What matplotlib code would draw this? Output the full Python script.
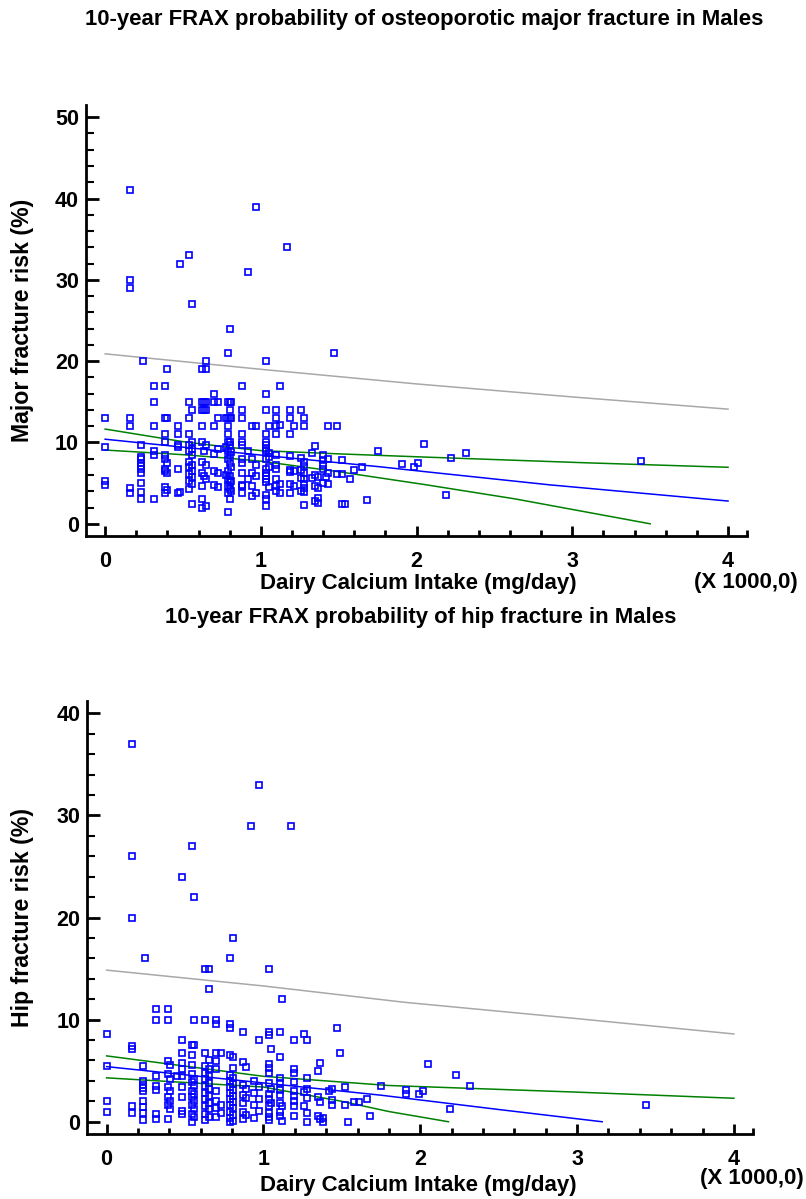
import matplotlib
matplotlib.use("Agg")
import matplotlib.pyplot as plt
from matplotlib.ticker import MultipleLocator, FixedLocator

plt.rcParams['font.family'] = ['Liberation Sans', 'DejaVu Sans']
plt.rcParams['font.weight'] = 'bold'

# ---- data (calcium in thousands of mg/day, risk in %) ----
major_points = [
    (0.0, 13), (0.0, 9.5), (0.0, 5.3), (0.0, 4.8),
    (0.157, 41), (0.157, 30), (0.157, 29), (0.157, 13), (0.157, 12), (0.157, 4.4), (0.157, 3.8),
    (0.23, 9.7), (0.23, 8.2), (0.23, 8.0), (0.23, 7.5), (0.23, 7.1), (0.23, 6.8), (0.23, 6.3),
    (0.23, 5.0), (0.23, 3.9), (0.23, 3.1), (0.245, 20),
    (0.313, 17), (0.313, 15), (0.313, 12), (0.313, 8.9), (0.313, 8.4), (0.313, 3.1),
    (0.382, 17), (0.382, 13), (0.382, 11), (0.382, 10), (0.382, 8.5), (0.382, 8.0), (0.382, 6.8),
    (0.382, 6.5), (0.382, 4.5), (0.382, 3.75),
    (0.40, 19), (0.40, 13), (0.40, 7.5), (0.40, 6.3), (0.40, 4.2),
    (0.47, 12), (0.47, 11), (0.47, 9.7), (0.47, 9.5), (0.47, 6.75), (0.47, 3.75), (0.48, 32), (0.48, 3.9),
    (0.54, 33), (0.54, 15), (0.54, 13), (0.54, 11), (0.54, 9.7), (0.54, 8.9), (0.54, 7.6), (0.54, 7.0),
    (0.54, 6.1), (0.54, 5.3), (0.54, 4.25),
    (0.557, 27), (0.557, 14), (0.557, 10), (0.557, 9.25), (0.557, 8.4), (0.557, 7.25), (0.557, 6.5),
    (0.557, 5.7), (0.557, 4.9), (0.557, 2.4),
    (0.62, 19), (0.62, 15), (0.62, 14), (0.62, 12), (0.62, 10), (0.62, 7.6), (0.62, 6.3), (0.62, 4.7),
    (0.62, 3.0), (0.62, 2.0),
    (0.635, 15), (0.635, 14), (0.635, 9.0), (0.635, 5.9),
    (0.648, 20), (0.648, 19), (0.648, 15), (0.648, 14), (0.648, 9.7), (0.648, 7.2), (0.648, 5.5), (0.648, 2.2),
    (0.70, 16), (0.70, 15), (0.70, 12), (0.70, 8.6), (0.70, 6.5), (0.70, 4.8),
    (0.725, 15), (0.725, 13), (0.725, 9.2), (0.725, 6.2), (0.725, 4.5),
    (0.775, 13), (0.775, 9.5), (0.775, 6.0),
    (0.787, 21), (0.787, 15), (0.787, 13), (0.787, 12), (0.787, 11), (0.787, 10), (0.787, 9.0),
    (0.787, 8.0), (0.787, 6.5), (0.787, 5.5), (0.787, 4.7), (0.787, 3.75), (0.787, 1.5),
    (0.80, 24), (0.80, 15), (0.80, 14), (0.80, 13), (0.80, 10), (0.80, 9.7), (0.80, 8.5), (0.80, 7.5),
    (0.80, 5.9), (0.80, 5.1), (0.80, 4.25), (0.80, 3.1),
    (0.81, 15), (0.81, 13), (0.81, 8.8), (0.81, 7.0), (0.81, 5.3), (0.81, 4.0),
    (0.877, 17), (0.877, 14), (0.877, 13), (0.877, 11), (0.877, 10), (0.877, 9.7), (0.877, 8.0),
    (0.877, 7.5), (0.877, 6.3), (0.877, 4.8), (0.877, 4.7), (0.877, 3.75),
    (0.916, 31), (0.916, 9.0), (0.916, 5.5),
    (0.945, 12), (0.945, 8.0), (0.945, 6.3), (0.945, 4.7), (0.945, 3.4),
    (0.969, 39), (0.969, 12), (0.969, 7.25), (0.969, 5.9), (0.969, 3.8),
    (1.03, 20), (1.03, 16), (1.03, 14), (1.03, 11), (1.03, 10), (1.03, 9.7), (1.03, 9.25), (1.03, 9.0),
    (1.03, 8.0), (1.03, 6.75), (1.03, 6.3), (1.03, 5.9), (1.03, 5.5), (1.03, 5.1), (1.03, 3.6),
    (1.03, 3.0), (1.03, 2.2),
    (1.05, 12), (1.05, 8.7), (1.05, 8.2), (1.05, 7.0), (1.05, 4.5),
    (1.10, 14), (1.10, 13), (1.10, 12), (1.10, 11), (1.10, 8.5), (1.10, 7.2), (1.10, 6.75), (1.10, 5.5),
    (1.10, 4.7), (1.10, 4.0),
    (1.12, 17), (1.12, 12.1), (1.12, 4.9), (1.12, 3.8), (1.17, 34),
    (1.19, 14), (1.19, 13), (1.19, 11), (1.19, 8.3), (1.19, 6.6), (1.19, 6.4), (1.19, 4.9), (1.19, 3.75),
    (1.21, 12), (1.21, 6.5), (1.21, 4.7),
    (1.26, 14), (1.26, 8.1), (1.26, 6.6), (1.26, 5.65), (1.26, 4.0),
    (1.28, 13), (1.28, 12), (1.28, 7.6), (1.28, 7.1), (1.28, 6.3), (1.28, 5.5), (1.28, 4.9), (1.28, 4.4),
    (1.28, 3.9), (1.28, 2.3),
    (1.33, 8.7), (1.33, 5.6), (1.35, 9.6), (1.35, 5.98), (1.35, 4.6), (1.35, 2.8),
    (1.37, 5.7), (1.37, 4.45), (1.37, 3.2), (1.37, 2.5),
    (1.40, 8.4), (1.40, 7.9), (1.40, 7.2), (1.40, 6.8), (1.40, 5.0), (1.42, 5.8),
    (1.43, 12), (1.43, 8.0), (1.43, 6.3), (1.43, 4.9), (1.47, 21), (1.49, 12), (1.49, 6.1),
    (1.52, 7.9), (1.52, 6.1), (1.52, 2.4), (1.54, 2.45), (1.575, 5.5), (1.60, 6.65), (1.65, 7.0),
    (1.68, 2.9), (1.75, 9.0), (1.905, 7.3), (1.985, 7.0), (2.01, 7.44), (2.05, 9.77), (2.19, 3.6),
    (2.22, 8.1), (2.32, 8.66), (3.44, 7.76),
]

hip_points = [
    (0.0, 8.6), (0.0, 5.5), (0.0, 2.0), (0.0, 1.0),
    (0.16, 37), (0.16, 26), (0.16, 20), (0.16, 7.4), (0.16, 7.1), (0.16, 1.5), (0.16, 0.85),
    (0.23, 5.5), (0.23, 4.0), (0.23, 3.6), (0.23, 3.3), (0.23, 3.0), (0.23, 2.0), (0.23, 1.4),
    (0.23, 0.85), (0.23, 0.2), (0.245, 16),
    (0.315, 11), (0.315, 10), (0.315, 4.5), (0.315, 3.55), (0.315, 3.1), (0.315, 0.8), (0.315, 0.3),
    (0.39, 11), (0.39, 10), (0.39, 5.95), (0.39, 4.7), (0.39, 3.4), (0.39, 2.45), (0.39, 1.6), (0.39, 0.3),
    (0.405, 5.6), (0.405, 4.2), (0.405, 3.0), (0.405, 2.0), (0.405, 1.2), (0.45, 4.5),
    (0.48, 24), (0.48, 8.0), (0.48, 6.75), (0.48, 5.8), (0.48, 5.15), (0.48, 4.5), (0.48, 3.4),
    (0.48, 2.45), (0.48, 1.1), (0.48, 0.8),
    (0.545, 27), (0.545, 7.5), (0.545, 6.5), (0.545, 5.6), (0.545, 4.7), (0.545, 3.9), (0.545, 3.0),
    (0.545, 2.4), (0.545, 1.6), (0.545, 0.8), (0.545, 0.0),
    (0.56, 22), (0.56, 10), (0.56, 7.5), (0.56, 4.2), (0.56, 3.5), (0.56, 2.7), (0.56, 2.0), (0.56, 1.2),
    (0.56, 0.5),
    (0.63, 15), (0.63, 10), (0.63, 6.75), (0.63, 5.5), (0.63, 4.8), (0.63, 4.2), (0.63, 3.5), (0.63, 2.8),
    (0.63, 2.2), (0.63, 1.5), (0.63, 0.8), (0.63, 0.2),
    (0.65, 15), (0.65, 13), (0.65, 6.0), (0.65, 5.2), (0.65, 4.5), (0.65, 3.8), (0.65, 3.2), (0.65, 2.5),
    (0.65, 1.8), (0.65, 1.2), (0.65, 0.5),
    (0.70, 10), (0.70, 9.6), (0.70, 6.75), (0.70, 5.95), (0.70, 5.15), (0.70, 3.0), (0.70, 2.0),
    (0.70, 1.3), (0.70, 0.5), (0.728, 6.75), (0.728, 1.6), (0.728, 0.9),
    (0.79, 16), (0.79, 9.6), (0.79, 9.2), (0.79, 6.5), (0.79, 4.6), (0.79, 4.0), (0.79, 3.4), (0.79, 2.8),
    (0.79, 2.2), (0.79, 1.6), (0.79, 1.0), (0.79, 0.4), (0.79, 0.0),
    (0.806, 18), (0.806, 6.3), (0.806, 5.3), (0.806, 4.3), (0.806, 3.7), (0.806, 3.1), (0.806, 2.5),
    (0.806, 1.9), (0.806, 1.3), (0.806, 0.7), (0.806, 0.1),
    (0.87, 8.8), (0.87, 5.85), (0.87, 3.6), (0.87, 2.6), (0.87, 1.8), (0.87, 1.0), (0.87, 0.3),
    (0.89, 5.35), (0.89, 3.2), (0.89, 2.3), (0.89, 0.7), (0.92, 29),
    (0.94, 4.0), (0.94, 2.8), (0.94, 1.6), (0.94, 0.4),
    (0.97, 33), (0.97, 8.0), (0.97, 3.4), (0.97, 2.2), (0.97, 1.1),
    (1.035, 15), (1.035, 8.75), (1.035, 8.46), (1.035, 5.7), (1.035, 5.25), (1.035, 4.8), (1.035, 3.8),
    (1.035, 2.7), (1.035, 2.2), (1.035, 1.5), (1.035, 0.9), (1.035, 0.5), (1.035, 0.2),
    (1.05, 7.15), (1.05, 3.2), (1.05, 1.8),
    (1.105, 8.75), (1.105, 6.35), (1.105, 4.3), (1.105, 3.8), (1.105, 3.1), (1.105, 2.6), (1.105, 1.8),
    (1.105, 1.0), (1.105, 0.6), (1.12, 12), (1.12, 1.5), (1.12, 0.1), (1.177, 29),
    (1.195, 7.97), (1.195, 5.2), (1.195, 4.8), (1.195, 3.9), (1.195, 3.0), (1.195, 2.5), (1.195, 2.0),
    (1.195, 1.5), (1.195, 0.6),
    (1.26, 8.6), (1.26, 2.9), (1.26, 1.5),
    (1.28, 7.97), (1.28, 4.3), (1.28, 3.2), (1.28, 2.3), (1.28, 0.9), (1.28, 0.0),
    (1.35, 5.0), (1.35, 2.4), (1.35, 0.6), (1.36, 5.8), (1.36, 1.9), (1.36, 0.3), (1.38, 0.4), (1.38, 0.0),
    (1.42, 3.0), (1.44, 3.2), (1.44, 2.1), (1.44, 1.6), (1.47, 9.18), (1.49, 6.75), (1.52, 3.4),
    (1.52, 1.6), (1.54, 0.0), (1.58, 1.9), (1.61, 1.9), (1.66, 2.2), (1.68, 0.56), (1.75, 3.5),
    (1.91, 3.1), (1.91, 2.7), (1.99, 2.7), (2.015, 3.0), (2.05, 5.67), (2.19, 1.22), (2.226, 4.6),
    (2.32, 3.54), (3.44, 1.64),
]

# fitted line, confidence band and prediction limit
major_fit_x = [0, 1, 1.77, 2.06, 2.85, 4]
major_fit_y = [10.4, 8.45, 7.0, 6.4, 4.8, 2.8]
major_ci_up_x = [0, 0.5, 0.8, 1, 1.5, 2.06, 3.09, 4]
major_ci_up_y = [11.65, 10.1, 9.4, 9.0, 8.6, 8.2, 7.5, 6.95]
major_ci_lo_x = [0, 0.5, 0.8, 1, 1.5, 2.06, 2.63, 3.5]
major_ci_lo_y = [9.07, 8.5, 8.05, 7.7, 6.4, 4.8, 3.07, 0.0]
major_pred_x = [0, 1, 2, 3, 4]
major_pred_y = [20.9, 19.0, 17.2, 15.6, 14.1]

hip_fit_x = [0, 1, 1.75, 2.5, 3.16]
hip_fit_y = [5.4, 3.8, 2.6, 1.2, 0.0]
hip_ci_up_x = [0, 1, 1.8, 3, 4]
hip_ci_up_y = [6.45, 4.45, 3.55, 2.9, 2.3]
hip_ci_lo_x = [0, 1, 1.5, 1.8, 2.18]
hip_ci_lo_y = [4.3, 3.4, 2.0, 1.0, 0.0]
hip_pred_x = [0, 1, 1.9, 3, 4]
hip_pred_y = [14.85, 13.3, 11.7, 10.1, 8.6]

x_ticks = [0, 1, 2, 3, 4]
x_ticklabels = ['0', '1', '2', '3', '4']

W, H = 806, 1199
fig = plt.figure(figsize=(W / 100, H / 100), dpi=100)


def make_panel(rect, points, fit, ci_up, ci_lo, pred, ylim, ylabel, xlab_y, unit_pos, title, title_pos):
    l, t, r, b = rect
    ax = fig.add_axes([l / W, 1 - b / H, (r - l) / W, (b - t) / H])
    xs = [p[0] for p in points]
    ys = [p[1] for p in points]

    ax.plot(pred[0], pred[1], color='#a8a8a8', lw=1.1)
    ax.plot(ci_up[0], ci_up[1], color='#008000', lw=1.1)
    ax.plot(ci_lo[0], ci_lo[1], color='#008000', lw=1.1)
    ax.plot(fit[0], fit[1], color='#0000ff', lw=1.1)
    ax.plot(xs, ys, ls='none', marker='s', ms=5, mfc='none', mec='#0000ff', mew=1.2)

    ax.set_xlim(-0.123, 4.12)
    ax.set_ylim(*ylim)
    for s in ['top', 'right']:
        ax.spines[s].set_visible(False)
    for s in ['left', 'bottom']:
        ax.spines[s].set_linewidth(2)

    ax.xaxis.set_major_locator(FixedLocator(x_ticks))
    ax.set_xticklabels(x_ticklabels)
    ax.xaxis.set_minor_locator(FixedLocator([v / 5 for v in range(1, 20) if v % 5] + [4.12]))
    ax.yaxis.set_major_locator(MultipleLocator(10))
    ax.yaxis.set_minor_locator(MultipleLocator(2))
    ax.tick_params(axis='x', which='major', direction='in', length=7, width=2, pad=11, labelsize=15.5)
    ax.tick_params(axis='x', which='minor', direction='in', length=4, width=2)
    ax.tick_params(axis='y', which='major', direction='in', length=9.5, width=2, pad=5, labelsize=15.5)
    ax.tick_params(axis='y', which='minor', direction='in', length=6, width=1.5)

    ax.set_ylabel(ylabel, fontsize=16.7, fontweight='bold')
    ax.yaxis.set_label_coords((22.5 - l) / (r - l), 0.5)
    ax.yaxis.label.set_va('center')
    ax.set_xlabel('Dairy Calcium Intake (mg/day)', fontsize=16, fontweight='bold')
    ax.xaxis.set_label_coords((418 - l) / (r - l), (b - xlab_y) / (b - t))
    ax.xaxis.label.set_va('center')
    # scale note sits just under the last tick label
    ax.text((unit_pos[0] - l) / (r - l), (b - unit_pos[1]) / (b - t), '(X 1000,0)', transform=ax.transAxes,
            ha='center', va='top', fontsize=16, fontweight='bold')
    fig.text(title_pos[0] / W, 1 - title_pos[1] / H, title, ha='center', va='center',
             fontsize=15.9, fontweight='bold')
    return ax


make_panel((86, 105, 746.7, 536), major_points,
           (major_fit_x, major_fit_y), (major_ci_up_x, major_ci_up_y),
           (major_ci_lo_x, major_ci_lo_y), (major_pred_x, major_pred_y),
           (-1.5, 51.5), 'Major fracture risk (%)', 584, (746, 572),
           '10-year FRAX probability of osteoporotic major fracture in Males', (424, 20))

make_panel((87.3, 700.7, 752.7, 1134), hip_points,
           (hip_fit_x, hip_fit_y), (hip_ci_up_x, hip_ci_up_y),
           (hip_ci_lo_x, hip_ci_lo_y), (hip_pred_x, hip_pred_y),
           (-1.2, 41.24), 'Hip fracture risk (%)', 1186, (752, 1168),
           '10-year FRAX probability of hip fracture in Males', (421, 617))

fig.savefig('out.png', dpi=100)
